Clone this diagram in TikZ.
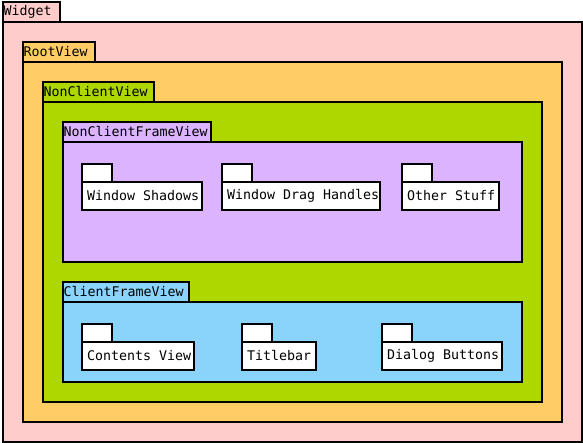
\documentclass[tikz,border=0pt]{standalone}
\usepackage{fontspec}
\setmonofont{DejaVu Sans Mono}
\usetikzlibrary{positioning}

\definecolor{widgetpink}{HTML}{FFCCCC}
\definecolor{rootorange}{HTML}{FFCC66}
\definecolor{nonclientgreen}{HTML}{AED700}
\definecolor{framepurple}{HTML}{DBB3FF}
\definecolor{clientblue}{HTML}{8AD4FC}

\newcommand{\wordgap}{\spaceskip=8pt\relax}

\tikzset{
    body/.style={draw=black, line width=2pt, anchor=north west, inner sep=0pt, outer sep=0pt},
    tab/.style={draw=black, line width=2pt, anchor=south west, inner xsep=0.5pt, inner ysep=0pt, outer sep=0pt, minimum height=20pt, align=left, font=\ttfamily\fontsize{13.3}{15}\selectfont},
    flap/.style={draw=black, line width=2pt, fill=white, anchor=south west, inner sep=0pt, outer sep=0pt, minimum width=30pt, minimum height=18pt},
    item/.style={draw=black, line width=2pt, fill=white, anchor=north west, inner xsep=5pt, inner ysep=0pt, outer sep=0pt, minimum height=28pt, align=left, font=\ttfamily\fontsize{13.3}{15}\selectfont,
        execute at begin node=\wordgap\hbox\bgroup, execute at end node=\egroup}
}

\begin{document}
\begin{tikzpicture}[x=1pt, y=-1pt]
            \useasboundingbox (0, 0) rectangle (583, 443);

            \node[body, fill=widgetpink, minimum width=579pt, minimum height=420pt] (widget) at (3, 22) {};
            \node[tab, fill=widgetpink, text width=56pt] (widgettab) at (widget.north west) {Widget};
            \node[body, fill=rootorange, minimum width=539pt, minimum height=360pt] (root) at (23, 62) {};
            \node[tab, fill=rootorange, text width=71pt] (roottab) at (root.north west) {RootView};
            \node[body, fill=nonclientgreen, minimum width=499pt, minimum height=300pt] (nonclient) at (43, 102) {};
            \node[tab, fill=nonclientgreen, text width=110pt] (nonclienttab) at (nonclient.north west) {NonClientView};
            \node[body, fill=framepurple, minimum width=459pt, minimum height=120pt] (ncframe) at (63, 142) {};
            \node[tab, fill=framepurple, text width=147pt] (ncframetab) at (ncframe.north west) {NonClientFrameView};
            \node[body, fill=clientblue, minimum width=459pt, minimum height=80pt] (client) at (63, 302) {};
            \node[tab, fill=clientblue, text width=125pt] (clienttab) at (client.north west) {ClientFrameView};

            \node[item, text width=110pt] (shadows) at (82, 182) {Window Shadows};
            \node[flap] (shadowsflap) at (shadows.north west) {};
            \node[item, text width=148pt] (drag) at (222, 182) {Window Drag Handles};
            \node[flap] (dragflap) at (drag.north west) {};
            \node[item, text width=87pt] (other) at (402, 182) {Other Stuff};
            \node[flap] (otherflap) at (other.north west) {};

            \node[item, text width=102pt] (contents) at (82, 342) {Contents View};
            \node[flap] (contentsflap) at (contents.north west) {};
            \node[item, text width=64pt] (titlebar) at (242, 342) {Titlebar};
            \node[flap] (titlebarflap) at (titlebar.north west) {};
            \node[item, text width=110pt] (dialog) at (382, 342) {Dialog Buttons};
            \node[flap] (dialogflap) at (dialog.north west) {};
        \end{tikzpicture}
\end{document}
